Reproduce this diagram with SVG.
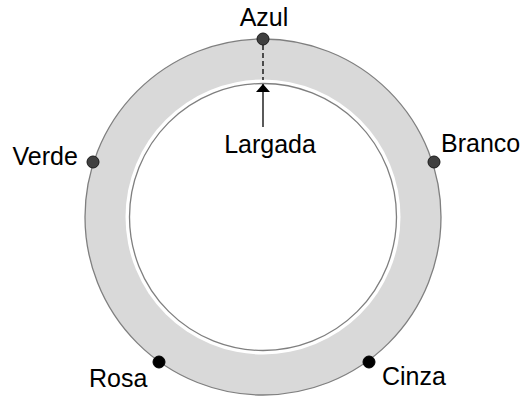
<svg xmlns="http://www.w3.org/2000/svg" width="522" height="398" viewBox="0 0 522 398">
<defs>
<style>
text{font-family:"Liberation Sans",Arial,sans-serif;font-size:25px;fill:#000}
.dot{fill:#404040;stroke:#1a1a1a;stroke-width:1}
.dotb{fill:#000;stroke:#000;stroke-width:1}
</style>
<marker id="ah" viewBox="0 0 8 14" refX="8" refY="7" markerWidth="8" markerHeight="14" markerUnits="userSpaceOnUse" orient="auto">
<path d="M0,0 L8,7 L0,14 Z" fill="#000"/>
</marker>
</defs>
<rect width="522" height="398" fill="#fff"/>
<g id="track">
<circle cx="263" cy="217" r="178" fill="#d9d9d9" stroke="#7f7f7f" stroke-width="1.3"/>
<circle cx="263" cy="217" r="137.5" fill="#fff"/>
<circle cx="263" cy="217" r="133.5" fill="#fff" stroke="#7f7f7f" stroke-width="1.3"/>
</g>
<g id="connectors">
<line x1="263" y1="45" x2="263" y2="80" stroke="#000" stroke-width="1.3" stroke-dasharray="5,3"/>
<line x1="263" y1="127" x2="263" y2="84" stroke="#000" stroke-width="1.3" marker-end="url(#ah)"/>
</g>
<g id="azul">
<circle class="dot" cx="263" cy="39" r="6"/>
<text x="264" y="26" text-anchor="middle">Azul</text>
</g>
<g id="largada">
<text x="270" y="153" text-anchor="middle">Largada</text>
</g>
<g id="verde">
<circle class="dot" cx="93" cy="162" r="6"/>
<text x="12.5" y="165">Verde</text>
</g>
<g id="branco">
<circle class="dot" cx="434" cy="162" r="6"/>
<text x="441" y="152">Branco</text>
</g>
<g id="rosa">
<circle class="dotb" cx="159" cy="362" r="6"/>
<text x="89" y="387">Rosa</text>
</g>
<g id="cinza">
<circle class="dotb" cx="369" cy="362" r="6"/>
<text x="382" y="385">Cinza</text>
</g>
</svg>
